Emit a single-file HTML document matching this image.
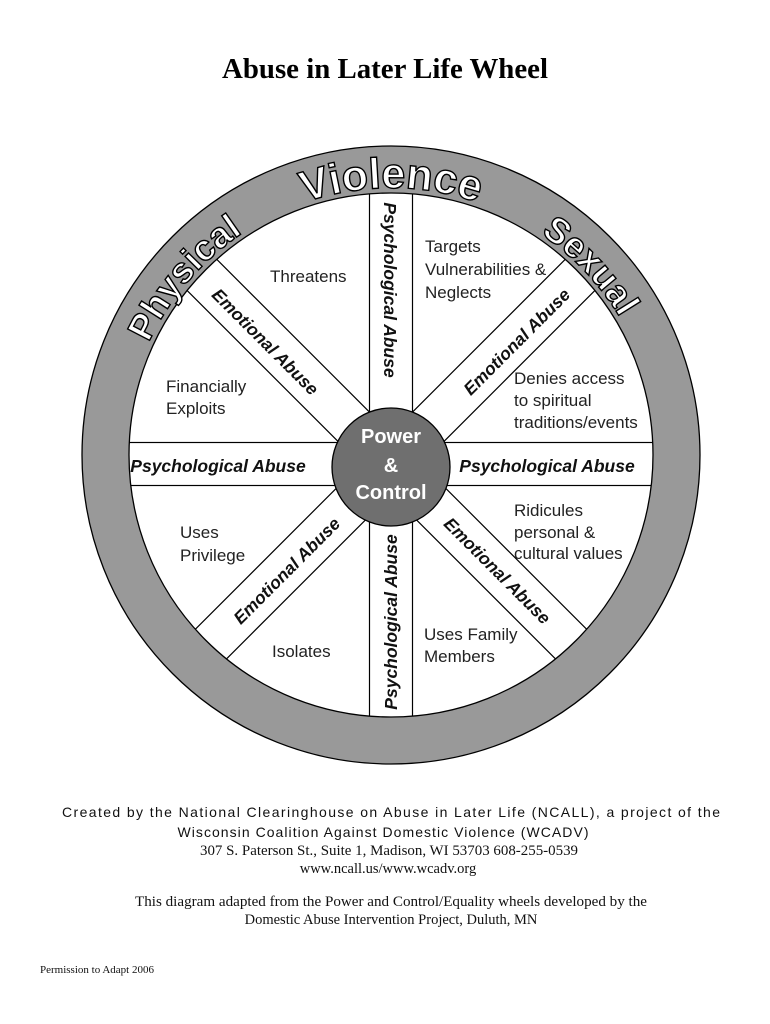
<!DOCTYPE html>
<html><head><meta charset="utf-8"><style>html,body{margin:0;padding:0;background:#fff}svg{display:block}</style></head>
<body>
<svg width="770" height="1024" viewBox="0 0 770 1024" xmlns="http://www.w3.org/2000/svg">
<defs>
<clipPath id="inner"><circle cx="391" cy="455" r="262"/></clipPath>
<path id="arc" d="M124,455 A267,267 0 1 1 658,455 A267,267 0 1 1 124,455"/>
</defs>
<rect width="770" height="1024" fill="#fff"/>
<text x="385" y="78" font-family="Liberation Serif, serif" font-weight="bold" font-size="29" text-anchor="middle" textLength="326" lengthAdjust="spacingAndGlyphs">Abuse in Later Life Wheel</text>

<!-- ring -->
<circle cx="391" cy="455" r="285.5" fill="none" stroke="#999" stroke-width="47"/>
<circle cx="391" cy="455" r="309" fill="none" stroke="#000" stroke-width="1.3"/>
<circle cx="391" cy="455" r="262" fill="none" stroke="#000" stroke-width="1.3"/>

<!-- bands -->
<g clip-path="url(#inner)" fill="none" stroke="#000" stroke-width="1.2">
  <g transform="translate(391,464)">
    <rect x="-21.5" y="-330" width="43" height="660"/>
    <rect x="-21.5" y="-330" width="43" height="660" transform="rotate(90)"/>
    <rect x="-21.5" y="-330" width="43" height="660" transform="rotate(45)"/>
    <rect x="-21.5" y="-330" width="43" height="660" transform="rotate(-45)"/>
  </g>
</g>
<circle cx="391" cy="467" r="59" fill="#6f6f6f" stroke="#000" stroke-width="1.3"/>
<g font-family="Liberation Sans, sans-serif" font-weight="bold" font-size="20" fill="#fff" text-anchor="middle">
<text x="391" y="443">Power</text>
<text x="391" y="472">&amp;</text>
<text x="391" y="499">Control</text>
</g>

<!-- ring words -->
<g font-family="Liberation Sans, sans-serif" font-weight="bold" fill="#fff" stroke="#000" stroke-width="1.4" text-anchor="middle">
<text font-size="43"><textPath href="#arc" startOffset="419.5">Violence</textPath></text>
<text font-size="36"><textPath href="#arc" startOffset="189">Physical</textPath></text>
<text font-size="36"><textPath href="#arc" startOffset="636">Sexual</textPath></text>
</g>

<!-- sector labels -->
<g font-family="Liberation Sans, sans-serif" font-size="17" fill="#222">
<text x="270" y="282">Threatens</text>
<text x="425" y="252">Targets</text>
<text x="425" y="275">Vulnerabilities &amp;</text>
<text x="425" y="298">Neglects</text>
<text x="166" y="392">Financially</text>
<text x="166" y="414">Exploits</text>
<text x="514" y="384">Denies access</text>
<text x="514" y="406">to spiritual</text>
<text x="514" y="428">traditions/events</text>
<text x="514" y="516">Ridicules</text>
<text x="514" y="538">personal &amp;</text>
<text x="514" y="559">cultural values</text>
<text x="180" y="538">Uses</text>
<text x="180" y="561">Privilege</text>
<text x="272" y="657">Isolates</text>
<text x="424" y="640">Uses Family</text>
<text x="424" y="662">Members</text>
</g>

<!-- band labels -->
<g font-family="Liberation Sans, sans-serif" font-size="17.5" font-weight="bold" font-style="italic" fill="#111" text-anchor="middle">
<text x="218" y="472">Psychological Abuse</text>
<text x="547" y="472">Psychological Abuse</text>
<text transform="translate(384,290) rotate(90)">Psychological Abuse</text>
<text transform="translate(397,622) rotate(-90)">Psychological Abuse</text>
<text transform="translate(261,346) rotate(45)">Emotional Abuse</text>
<text transform="translate(521,346) rotate(-45)">Emotional Abuse</text>
<text transform="translate(291,575) rotate(-45)">Emotional Abuse</text>
<text transform="translate(493,575) rotate(45)">Emotional Abuse</text>
</g>

<!-- footer -->
<g text-anchor="middle" fill="#111">
<text x="391" y="817" font-family="Liberation Sans, sans-serif" font-size="14" textLength="658" lengthAdjust="spacing">Created by the National Clearinghouse on Abuse in Later Life (NCALL), a project of the</text>
<text x="383" y="837" font-family="Liberation Sans, sans-serif" font-size="14" textLength="411" lengthAdjust="spacing">Wisconsin Coalition Against Domestic Violence (WCADV)</text>
<text x="389" y="855" font-family="Liberation Serif, serif" font-size="14.5" textLength="378" lengthAdjust="spacingAndGlyphs">307 S. Paterson St., Suite 1, Madison, WI 53703 608-255-0539</text>
<text x="388" y="873" font-family="Liberation Serif, serif" font-size="14.5">www.ncall.us/www.wcadv.org</text>
<text x="391" y="906" font-family="Liberation Serif, serif" font-size="14.5" textLength="512" lengthAdjust="spacingAndGlyphs">This diagram adapted from the Power and Control/Equality wheels developed by the</text>
<text x="391" y="924" font-family="Liberation Serif, serif" font-size="14.5">Domestic Abuse Intervention Project, Duluth, MN</text>
</g>
<text x="40" y="973" font-family="Liberation Serif, serif" font-size="11" fill="#111">Permission to Adapt 2006</text>
</svg>
</body></html>
